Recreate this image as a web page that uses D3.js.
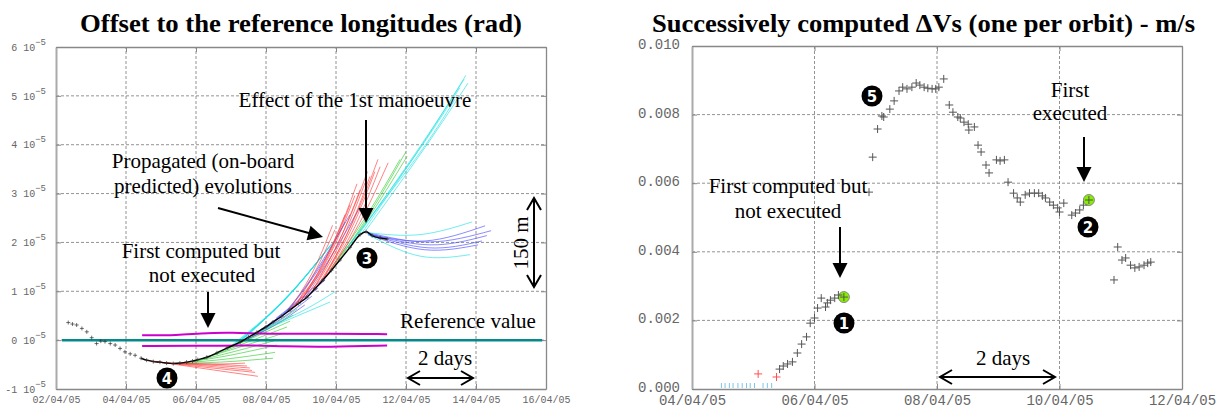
<!DOCTYPE html>
<html>
<head>
<meta charset="utf-8">
<script src="https://cdn.jsdelivr.net/npm/d3@7"></script>
<style>
body { margin: 0; background: #fff; }
.note { font-family: "Liberation Serif", "Times New Roman", serif; font-size: 21px; fill: #000; }
.title { font-family: "Liberation Serif", "Times New Roman", serif; font-weight: bold; font-size: 25px; fill: #000; }
.mono { font-family: "Liberation Mono", "DejaVu Sans Mono", monospace; fill: #666; }
</style>
</head>
<body>
<svg id="chart" width="1219" height="410"></svg>
<script>
//Days are decimal days of April 2005
var xTicksLeft = [2, 4, 6, 8, 10, 12, 14, 16];
var yTicksLeft = [-1, 0, 1, 2, 3, 4, 5, 6];          // x 1e-5 rad
var xTicksRight = [4, 6, 8, 10, 12];
var yTicksRight = [0, 0.002, 0.004, 0.006, 0.008, 0.010];

//Measured longitude offset (1e-5 rad)
var observed = [[2.35,0.36],[2.47,0.33],[2.59,0.31],[2.74,0.24],[2.88,0.17],[3.02,0.05],[3.16,-0.07],
  [3.28,-0.02],[3.40,-0.03],[3.55,-0.07],[3.69,-0.10],[3.83,-0.17],[3.97,-0.24],[4.12,-0.28],[4.26,-0.31],
  [4.43,-0.37],[4.59,-0.41],[4.78,-0.44],[4.97,-0.45],[5.16,-0.47],[5.35,-0.48],[5.54,-0.47],[5.73,-0.45],
  [5.90,-0.43],[6.05,-0.40],[6.31,-0.35],[6.60,-0.26],[6.89,-0.16],[7.26,-0.04],[7.50,0.06],[7.74,0.16],
  [8.00,0.27],[8.20,0.37],[8.45,0.49],[8.69,0.62],[8.93,0.75],[9.17,0.88],[9.40,1.05],[9.63,1.23],
  [9.87,1.43],[10.11,1.64],[10.40,1.90],[10.69,2.16],[10.86,2.22],[11.03,2.14],[11.26,2.09],[11.46,2.07]];

//Propagated (on-board predicted) evolutions
var propRed = [
  [[4.63,-0.41],[6.11,-0.57],[7.77,-0.74]], [[4.74,-0.43],[6.20,-0.55],[7.69,-0.66]],
  [[4.89,-0.45],[6.29,-0.53],[7.60,-0.62]], [[5.03,-0.47],[6.34,-0.51],[7.54,-0.57]],
  [[5.17,-0.47],[6.40,-0.49],[7.46,-0.53]], [[5.31,-0.47],[6.46,-0.49],[7.40,-0.47]],
  [[8.69,0.62],[9.54,1.44],[10.26,2.57]], [[8.83,0.70],[9.69,1.60],[10.40,2.77]],
  [[8.97,0.78],[9.83,1.75],[10.54,2.96]], [[9.11,0.86],[9.97,1.85],[10.69,3.08]],
  [[9.26,0.94],[10.11,1.97],[10.83,3.22]], [[9.40,1.03],[10.26,2.09],[10.97,3.35]],
  [[9.54,1.15],[10.40,2.22],[11.11,3.45]], [[9.69,1.27],[10.54,2.32],[11.26,3.55]],
  [[9.83,1.40],[10.69,2.42],[11.49,3.63]], [[8.83,0.70],[9.40,1.40],[9.97,2.26]],
  [[8.60,0.57],[9.30,1.35],[9.90,2.35]], [[9.00,0.80],[9.90,1.95],[10.60,3.20]],
  [[9.30,0.97],[10.20,2.20],[10.90,3.45]], [[9.60,1.20],[10.50,2.45],[11.20,3.70]]];
var propGreen = [
  [[5.34,-0.47],[6.69,-0.45],[8.20,-0.37]], [[5.54,-0.47],[6.83,-0.39],[8.26,-0.25]],
  [[5.74,-0.45],[6.97,-0.31],[8.31,-0.10]], [[5.97,-0.43],[7.11,-0.23],[8.40,0.02]],
  [[6.20,-0.37],[7.26,-0.14],[8.49,0.14]], [[6.40,-0.33],[7.40,-0.06],[8.60,0.27]],
  [[6.63,-0.25],[7.60,0.04],[8.69,0.39]], [[6.86,-0.18],[7.77,0.12],[8.77,0.51]],
  [[7.11,-0.10],[7.97,0.21],[8.89,0.64]], [[9.97,1.52],[11.03,2.67],[12.00,3.86]],
  [[9.83,1.44],[10.91,2.59],[11.83,3.70]], [[10.03,1.64],[10.89,2.46],[12.03,3.76]]];
var propBlue = [
  [[7.40,0.00],[8.26,0.31],[9.11,0.72]], [[7.60,0.08],[8.46,0.45],[9.31,0.90]],
  [[7.83,0.21],[8.69,0.62],[9.49,1.07]], [[8.06,0.31],[8.89,0.76],[9.69,1.23]],
  [[8.29,0.45],[9.11,0.92],[9.89,1.44]], [[8.40,0.45],[9.26,1.23],[10.40,2.57]],
  [[8.54,0.53],[9.49,1.44],[10.26,2.42]], [[8.97,0.78],[9.83,1.68],[10.69,2.73]],
  [[10.91,2.20],[12.69,2.01],[14.43,2.24]], [[10.91,2.18],[12.69,1.95],[14.31,2.14]],
  [[10.91,2.18],[12.63,1.89],[14.17,2.03]], [[10.91,2.16],[12.54,1.85],[14.06,1.95]],
  [[10.91,2.18],[12.54,2.03],[14.26,2.34]]];
var propCyan = [
  [[7.69,0.14],[8.74,0.45],[9.83,0.78]], [[7.89,0.23],[8.97,0.57],[9.97,0.99]],
  [[7.17,-0.06],[8.54,0.82],[9.74,1.85]], [[7.26,-0.02],[8.63,0.90],[9.83,1.93]],
  [[7.03,-0.10],[8.40,0.74],[9.60,1.72]], [[7.37,0.02],[8.74,0.99],[9.91,1.99]],
  [[7.10,-0.08],[8.47,0.78],[9.69,1.80]], [[7.22,-0.04],[8.58,0.86],[9.78,1.89]],
  [[7.30,0.00],[8.68,0.95],[9.87,1.97]],
  [[10.54,2.05],[12.40,3.96],[13.66,5.34]], [[10.40,1.95],[12.34,3.86],[13.54,5.17]],
  [[10.69,2.14],[12.46,4.00],[13.71,5.42]], [[10.26,1.85],[12.26,3.70],[13.40,4.93]],
  [[10.83,2.22],[12.54,3.94],[13.77,5.26]],
  [[10.91,2.20],[12.40,2.16],[13.89,2.42]], [[10.91,2.16],[12.40,1.72],[13.83,1.75]]];

//Station-keeping box edges and reference value
var magentaUpper = [[4.46,0.10],[5.50,0.10],[6.10,0.14],[7.00,0.16],[8.20,0.12],[9.80,0.14],[11.46,0.12]];
var magentaLower = [[4.46,-0.12],[6.00,-0.12],[7.50,-0.10],[8.50,-0.13],[9.80,-0.14],[11.46,-0.11]];
var referenceLine = [[2.17,0], [15.89,0]];

//Computed delta-V per orbit (m/s)
var dvComputed = [[5.43,0.00058],[5.49,0.00067],[5.56,0.00073],[5.64,0.00079],[5.72,0.00105],[5.79,0.00131],
  [5.87,0.00152],[5.93,0.00192],[6.00,0.00207],[6.05,0.00236],[6.11,0.00265],[6.18,0.00239],[6.21,0.00251],
  [6.26,0.00259],[6.33,0.00265],[6.39,0.00274],[6.48,0.00268],[6.89,0.00574],[6.95,0.00676],[7.03,0.00758],
  [7.10,0.00796],[7.13,0.00793],[7.23,0.00816],[7.30,0.00840],[7.38,0.00869],[7.44,0.00880],[7.51,0.00875],
  [7.59,0.00880],[7.66,0.00892],[7.72,0.00886],[7.79,0.00880],[7.85,0.00877],[7.92,0.00875],[7.98,0.00875],
  [8.03,0.00880],[8.11,0.00904],[8.20,0.00828],[8.26,0.00807],[8.34,0.00793],[8.38,0.00790],[8.44,0.00778],
  [8.51,0.00772],[8.52,0.00755],[8.61,0.00764],[8.67,0.00711],[8.72,0.00691],[8.80,0.00653],[8.85,0.00630],
  [8.97,0.00668],[9.03,0.00665],[9.10,0.00668],[9.16,0.00603],[9.25,0.00571],[9.31,0.00557],[9.36,0.00545],
  [9.44,0.00566],[9.51,0.00571],[9.59,0.00571],[9.66,0.00571],[9.72,0.00563],[9.77,0.00557],[9.84,0.00545],
  [9.90,0.00536],[9.97,0.00528],[10.00,0.00516],[10.07,0.00542],[10.20,0.00507],[10.26,0.00513],[10.33,0.00522],
  [10.39,0.00536],[10.48,0.00551],[10.89,0.00318],[10.95,0.00414],[11.02,0.00376],[11.08,0.00382],[11.16,0.00361],
  [11.23,0.00353],[11.30,0.00356],[11.38,0.00361],[11.44,0.00367],[11.49,0.00370]];
var dvRed = [[5.08,0.00044],[5.38,0.00035]];
var dvZero = [4.48,4.54,4.61,4.67,4.75,4.82,4.89,4.95,5.02,5.16,5.23,5.30];
var dvHighlighted = [[6.48,0.00268],[10.48,0.00551]];

var DAY = 864e5;
function april(d) { return new Date(Date.UTC(2005, 3, 1) + (d - 1) * DAY); }

var svg = d3.select("#chart");
var fmtDate = d3.utcFormat("%d/%m/%y");

var xL = d3.scaleUtc().domain([april(2), april(16)]).range([56, 546]);
var yL = d3.scaleLinear().domain([-1, 6]).range([389, 47]);
var xR = d3.scaleUtc().domain([april(4), april(12)]).range([692, 1182]);
var yR = d3.scaleLinear().domain([0, 0.010]).range([389, 46]);

function drawFrame(x, y, xTicks, yTicks, fontSize, xPad, yPad, yFmt, yDy) {
    var g = svg.append("g");
    var x0 = x.range()[0], x1 = x.range()[1], y0 = y.range()[0], y1 = y.range()[1];
    //dashed grid
    g.selectAll(".gx").data(xTicks.slice(1, -1)).enter().append("line")
        .attr("x1", function(d){ return x(april(d)); })
        .attr("x2", function(d){ return x(april(d)); })
        .attr("y1", y0).attr("y2", y1)
        .attr("stroke", "#777").attr("stroke-width", 0.8).attr("stroke-dasharray", "3,2");
    g.selectAll(".gy").data(yTicks.slice(1, -1)).enter().append("line")
        .attr("x1", x0).attr("x2", x1)
        .attr("y1", function(d){ return y(d); })
        .attr("y2", function(d){ return y(d); })
        .attr("stroke", "#777").attr("stroke-width", 0.8).attr("stroke-dasharray", "3,2");

    var bottom = g.append("g").attr("transform", "translate(0," + y0 + ")")
        .call(d3.axisBottom(x).tickValues(xTicks.map(april)).tickFormat(fmtDate)
            .tickSizeInner(-5).tickSizeOuter(0).tickPadding(xPad));
    var top = g.append("g").attr("transform", "translate(0," + y1 + ")")
        .call(d3.axisTop(x).tickValues(xTicks.map(april)).tickFormat("")
            .tickSizeInner(-5).tickSizeOuter(0));
    var left = g.append("g").attr("transform", "translate(" + x0 + ",0)")
        .call(d3.axisLeft(y).tickValues(yTicks).tickFormat(yFmt)
            .tickSizeInner(-5).tickSizeOuter(0).tickPadding(yPad));
    var right = g.append("g").attr("transform", "translate(" + x1 + ",0)")
        .call(d3.axisRight(y).tickValues(yTicks).tickFormat("")
            .tickSizeInner(-5).tickSizeOuter(0));
    [bottom, top, left, right].forEach(function(a){
        a.selectAll("path, line").attr("stroke", "#888");
        a.select(".domain").attr("stroke-width", 1.3);
        a.selectAll("text").attr("class", "mono").attr("font-family", null)
            .style("font-size", fontSize + "px").attr("fill", "#666");
    });
    left.selectAll("text").attr("dy", yDy);
    left.select(".domain").attr("stroke", "#aaa").attr("stroke-width", 2);
    return left;
}

//Left chart frame, y labels as "n 10^-5"
var leftAxis = drawFrame(xL, yL, xTicksLeft, yTicksLeft, 10, 7, 10, function(d){ return d + " 10"; }, "0.32em");
leftAxis.selectAll("text").append("tspan")
    .attr("dx", 0).attr("dy", -6).style("font-size", "9px").text("\u22125");

drawFrame(xR, yR, xTicksRight, yTicksRight, 14, 6, 12, d3.format(".3f"), "0.18em");

//Left chart curves
var lineL = d3.line()
    .x(function(d){ return xL(april(d[0])); })
    .y(function(d){ return yL(d[1]); })
    .curve(d3.curveNatural);

var props = svg.append("g").attr("fill", "none").attr("stroke-width", 0.7);
[[propGreen, "#2ecc2e"], [propBlue, "#4646ff"], [propCyan, "#1de0e6"], [propRed, "#ff3a3a"]].forEach(function(p){
    props.selectAll(null).data(p[0]).enter().append("path")
        .attr("d", lineL).attr("stroke", p[1]).attr("opacity", 0.9);
});

svg.append("path").datum(magentaUpper).attr("d", lineL.curve(d3.curveBasis))
    .attr("fill", "none").attr("stroke", "#cc00cc").attr("stroke-width", 2);
svg.append("path").datum(magentaLower).attr("d", lineL)
    .attr("fill", "none").attr("stroke", "#cc00cc").attr("stroke-width", 2);
svg.append("path").datum(referenceLine).attr("d", lineL.curve(d3.curveLinear))
    .attr("fill", "none").attr("stroke", "#058a8a").attr("stroke-width", 2.5);

svg.append("path").datum(observed.filter(function(d){ return d[0] >= 4.4; }))
    .attr("d", lineL.curve(d3.curveMonotoneX))
    .attr("fill", "none").attr("stroke", "#000").attr("stroke-width", 1.4);
svg.selectAll(null).data(observed).enter().append("path")
    .attr("transform", function(d){ return "translate(" + xL(april(d[0])) + "," + yL(d[1]) + ")"; })
    .attr("d", "M-2,0H2M0,-2V2").attr("stroke", "#333").attr("stroke-width", 0.7);

//Right chart marks
var cross = "M-4,0H4M0,-4V4";
svg.selectAll(null).data(dvZero).enter().append("line")
    .attr("x1", function(d){ return xR(april(d)); })
    .attr("x2", function(d){ return xR(april(d)); })
    .attr("y1", yR(0) - 1).attr("y2", yR(0) - 6)
    .attr("stroke", "#7cc6e6").attr("stroke-width", 1);
svg.selectAll(null).data(dvRed).enter().append("path")
    .attr("transform", function(d){ return "translate(" + xR(april(d[0])) + "," + yR(d[1]) + ")"; })
    .attr("d", cross).attr("stroke", "#ff5050").attr("stroke-width", 1);
svg.selectAll(null).data(dvHighlighted).enter().append("circle")
    .attr("cx", function(d){ return xR(april(d[0])); })
    .attr("cy", function(d){ return yR(d[1]); })
    .attr("r", 5.5).attr("fill", "#88ee00").attr("stroke", "#888").attr("stroke-width", 1);
svg.selectAll(null).data(dvComputed).enter().append("path")
    .attr("transform", function(d){ return "translate(" + xR(april(d[0])) + "," + yR(d[1]) + ")"; })
    .attr("d", cross).attr("stroke", "#555").attr("stroke-width", 1);

//Titles
svg.append("text").attr("class", "title").attr("x", 80).attr("y", 32)
    .attr("textLength", 442).attr("lengthAdjust", "spacingAndGlyphs")
    .text("Offset to the reference longitudes (rad)");
svg.append("text").attr("class", "title").attr("x", 652).attr("y", 32)
    .attr("textLength", 543).attr("lengthAdjust", "spacingAndGlyphs")
    .text("Successively computed \u0394Vs (one per orbit) - m/s");

//Annotations
function note(x, y, t) {
    svg.append("text").attr("class", "note").attr("x", x).attr("y", y)
        .attr("text-anchor", "middle").text(t);
}
function head(x, y, ang) {
    var L = 15, W = 7.5;
    var bx = x - L * Math.cos(ang), by = y - L * Math.sin(ang);
    var px = -Math.sin(ang) * W, py = Math.cos(ang) * W;
    svg.append("path")
        .attr("d", "M" + x + "," + y + "L" + (bx + px) + "," + (by + py) + "L" + (bx - px) + "," + (by - py) + "Z")
        .attr("fill", "#000");
}
function arrow(x1, y1, x2, y2) {
    var ang = Math.atan2(y2 - y1, x2 - x1);
    svg.append("line").attr("x1", x1).attr("y1", y1)
        .attr("x2", x2 - 10 * Math.cos(ang)).attr("y2", y2 - 10 * Math.sin(ang))
        .attr("stroke", "#000").attr("stroke-width", 2);
    head(x2, y2, ang);
}
function headOpen(x, y, ang) {
    var L = 12, W = 7;
    var bx = x - L * Math.cos(ang), by = y - L * Math.sin(ang);
    var px = -Math.sin(ang) * W, py = Math.cos(ang) * W;
    svg.append("path")
        .attr("d", "M" + (bx + px) + "," + (by + py) + "L" + x + "," + y + "L" + (bx - px) + "," + (by - py))
        .attr("fill", "none").attr("stroke", "#000").attr("stroke-width", 2);
}
function dbl(x1, y1, x2, y2) {
    var ang = Math.atan2(y2 - y1, x2 - x1);
    svg.append("line").attr("x1", x1).attr("y1", y1).attr("x2", x2).attr("y2", y2)
        .attr("stroke", "#000").attr("stroke-width", 2);
    headOpen(x2, y2, ang);
    headOpen(x1, y1, ang + Math.PI);
}
function badge(x, y, n) {
    svg.append("circle").attr("cx", x).attr("cy", y).attr("r", 10.5).attr("fill", "#000");
    svg.append("text").attr("x", x).attr("y", y + 5.5).attr("text-anchor", "middle")
        .attr("font-family", "DejaVu Sans, sans-serif").attr("font-weight", "bold")
        .attr("font-size", 15).attr("fill", "#fff").text(n);
}

note(355, 107, "Effect of the 1st manoeuvre");
arrow(366, 120, 366, 223);
note(203, 168, "Propagated (on-board");
note(203, 193, "predicted) evolutions");
arrow(218, 208, 323, 237);
note(201, 258, "First computed but");
note(202, 282, "not executed");
arrow(208, 292, 208, 328);
badge(367, 258, "3");
badge(167, 378, "4");
note(468, 328, "Reference value");
note(445, 365, "2 days");
dbl(408, 378, 473, 378);
svg.append("text").attr("class", "note").attr("text-anchor", "middle")
    .attr("transform", "translate(528,243) rotate(-90)").text("150 m");
dbl(534, 198, 534, 287);

note(788, 193, "First computed but");
note(788, 218, "not executed");
arrow(840, 227, 840, 278);
badge(844, 323, "1");
badge(872, 96, "5");
badge(1088, 227, "2");
note(1070, 97, "First");
note(1070, 120, "executed");
arrow(1084, 137, 1084, 182);
note(1003, 365, "2 days");
dbl(940, 377, 1055, 377);
</script>
</body>
</html>
